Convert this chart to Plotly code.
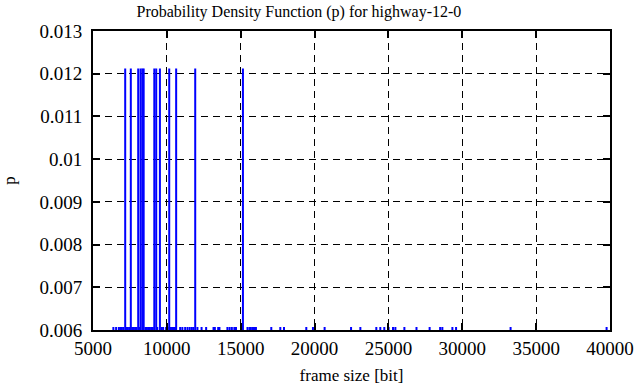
import plotly.graph_objects as go

# Tall impulses (frame size [bit], probability)
tall_x = [7180, 7560, 8060, 8220, 8340, 8430, 9150, 9280, 9530, 10160, 10630, 11920, 15150]
tall_p = [0.01212] * len(tall_x)

# Small impulses barely above the axis minimum
small_x = [6380, 6565, 6750, 6850, 6950, 7050, 7250, 7350, 7450, 7650,
           7750, 7850, 7950, 8150, 8550, 8650, 8750, 8850, 8950, 9050, 9350, 9650, 9750,
           9950, 10050, 10250, 10350, 10450, 10550, 10900, 11050,
           11240, 11400, 11550, 11690, 11800, 12070, 12350, 12660,
           13160, 13250, 13475, 13560, 14100, 14250, 14400, 14570, 14680,
           15460, 15600, 15690, 15830, 15915, 16030,
           17070, 17680, 17930, 19440, 19890, 20680, 22470, 23100,
           24180, 24450, 24720, 25010, 25310, 25470, 26080, 26900,
           27790, 28500, 28650, 29330, 29580, 33270, 39770]
small_p = [0.00607] * len(small_x)

x_ticks = [5000, 10000, 15000, 20000, 25000, 30000, 35000, 40000]
x_labels = ["5000", "10000", "15000", "20000", "25000", "30000", "35000", "40000"]
y_ticks = [0.006, 0.007, 0.008, 0.009, 0.010, 0.011, 0.012, 0.013]
y_labels = ["0.006", "0.007", "0.008", "0.009", "0.01", "0.011", "0.012", "0.013"]

all_x = small_x + tall_x
all_p = small_p + tall_p
lx, ly = [], []
for xv, pv in zip(all_x, all_p):
    lx += [xv, xv, None]
    ly += [0, pv, None]

fig = go.Figure()
fig.add_trace(go.Scatter(x=lx, y=ly, mode="lines",
                         line=dict(color="#0000ff", width=2),
                         showlegend=False, hoverinfo="skip"))

font = "Liberation Serif"
axis_common = dict(showline=True, linecolor="black", linewidth=2, mirror="ticks",
                   ticks="inside", ticklen=7, tickwidth=2, tickcolor="black",
                   showgrid=True, gridcolor="black", gridwidth=1, griddash="7px,5px",
                   zeroline=False, automargin=False,
                   tickfont=dict(family=font, size=19, color="black"))

fig.update_layout(
    width=636, height=387,
    margin=dict(l=93, r=26, t=31, b=57),
    paper_bgcolor="white", plot_bgcolor="white",
    title=dict(text="Probability Density Function (p) for highway-12-0",
               font=dict(family=font, size=16, color="black"),
               x=0.47, xanchor="center", y=1 - 11 / 387, yanchor="middle",
               yref="container", xref="container"),
    xaxis=dict(range=[5000, 40000], tickvals=x_ticks, ticktext=x_labels,
               title=dict(text="frame size [bit]", font=dict(family=font, size=17, color="black"), standoff=11),
               **axis_common),
    yaxis=dict(range=[0.006, 0.013], tickvals=y_ticks, ticktext=y_labels,
               ticklabelstandoff=5,
               title=dict(text="p", font=dict(family=font, size=17, color="black"), standoff=24),
               **axis_common),
)

fig.write_html("out.html", config={"displayModeBar": False},
               post_script="document.body.style.margin='0';document.body.style.overflow='hidden';")
